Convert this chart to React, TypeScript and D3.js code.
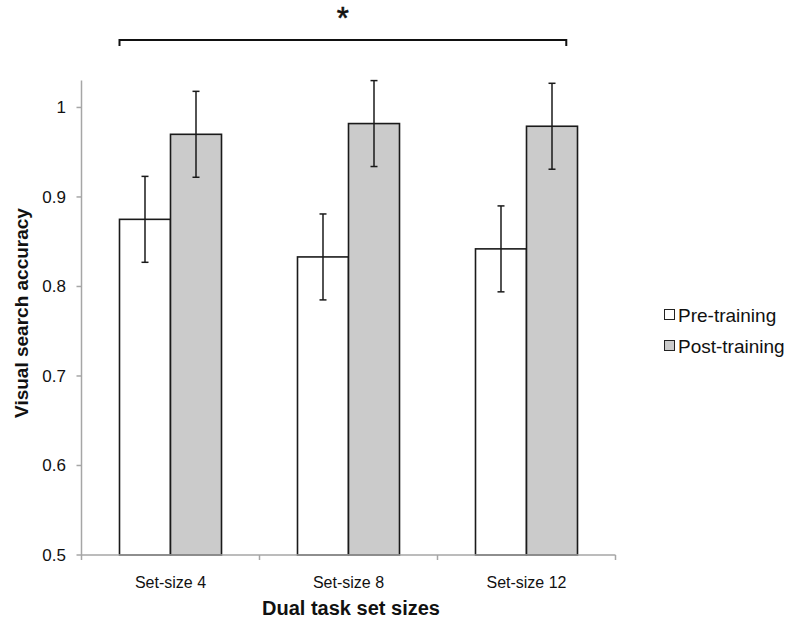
import React from "react";
import * as d3 from "d3";

const categories = ["Set-size 4", "Set-size 8", "Set-size 12"];
const seriesNames = ["Pre-training", "Post-training"];
const preValues = [0.875, 0.833, 0.842];
const postValues = [0.970, 0.982, 0.979];
const preErrors = [0.048, 0.048, 0.048];
const postErrors = [0.048, 0.048, 0.048];
const yTicks = [0.5, 0.6, 0.7, 0.8, 0.9, 1];
const seriesFill = ["#ffffff", "#cbcbcb"];

const W = 793;
const H = 619;
const FONT = "'Liberation Sans', Arial, Helvetica, sans-serif";

export default function App() {
  const x0 = d3.scaleBand<string>().domain(categories).range([81.5, 615.5]).paddingInner(0).paddingOuter(0);
  const x1 = d3.scaleBand<string>().domain(seriesNames).range([0, x0.bandwidth()]).paddingInner(0).paddingOuter(0.745);
  const y = d3.scaleLinear().domain([0.5, 1.03]).range([555, 80.6]);

  const values = [preValues, postValues];
  const errors = [preErrors, postErrors];

  const bracketLeft = (x0(categories[0]) ?? 0) + (x1(seriesNames[0]) ?? 0);
  const bracketRight = (x0(categories[2]) ?? 0) + (x1(seriesNames[1]) ?? 0) + x1.bandwidth() * 0.78;
  const bracketY = 40;

  const axisColor = "#a6a6a6";

  return (
    <svg width={W} height={H} style={{ position: "absolute", left: 0, top: 0, display: "block", background: "#fff" }} fontFamily={FONT}>
      {/* significance bracket */}
      <path
        d={`M${bracketLeft},${bracketY + 6}V${bracketY}H${bracketRight}V${bracketY + 6}`}
        fill="none"
        stroke="#111"
        strokeWidth={2}
      />
      <text x={(bracketLeft + bracketRight) / 2} y={29} textAnchor="middle" fontSize={31} fill="#111" stroke="#111" strokeWidth={0.6}>*</text>

      {/* y axis */}
      <line x1={x0.range()[0]} x2={x0.range()[0]} y1={y(0.5)} y2={y(1.03)} stroke={axisColor} strokeWidth={1.5} />
      {yTicks.map((t) => (
        <g key={t}>
          <line x1={x0.range()[0] - 5} x2={x0.range()[0]} y1={y(t)} y2={y(t)} stroke={axisColor} strokeWidth={1.5} />
          <text x={66} y={y(t)} dy="0.35em" textAnchor="end" fontSize={17} fill="#111">{d3.format("")(t)}</text>
        </g>
      ))}

      {/* bars */}
      {categories.map((c, ci) => (
        <g key={c} transform={`translate(${x0(c)},0)`}>
          {seriesNames.map((s, si) => {
            const v = values[si][ci];
            const bx = x1(s) ?? 0;
            return (
              <rect
                key={s}
                x={bx}
                y={y(v)}
                width={x1.bandwidth()}
                height={y(0.5) - y(v)}
                fill={seriesFill[si]}
                stroke="#1a1a1a"
                strokeWidth={1.6}
              />
            );
          })}
          {seriesNames.map((s, si) => {
            const v = values[si][ci];
            const e = errors[si][ci];
            const cx = (x1(s) ?? 0) + x1.bandwidth() / 2;
            return (
              <g key={s + "err"} stroke="#1a1a1a" strokeWidth={1.5}>
                <line x1={cx} x2={cx} y1={y(v + e)} y2={y(v - e)} />
                <line x1={cx - 3.5} x2={cx + 3.5} y1={y(v + e)} y2={y(v + e)} />
                <line x1={cx - 3.5} x2={cx + 3.5} y1={y(v - e)} y2={y(v - e)} />
              </g>
            );
          })}
        </g>
      ))}

      {/* x axis */}
      <line x1={x0.range()[0]} x2={x0.range()[1]} y1={y(0.5)} y2={y(0.5)} stroke={axisColor} strokeWidth={1.5} />
      {[...categories.map((c) => x0(c) ?? 0), x0.range()[1]].map((tx, i) => (
        <line key={i} x1={tx} x2={tx} y1={y(0.5)} y2={y(0.5) + 5} stroke={axisColor} strokeWidth={1.5} />
      ))}
      {categories.map((c) => (
        <text key={c} x={(x0(c) ?? 0) + x0.bandwidth() / 2} y={582} dy="0.35em" textAnchor="middle" fontSize={16} fill="#111">{c}</text>
      ))}

      {/* axis titles */}
      <text x={351} y={608} dy="0.35em" textAnchor="middle" fontSize={20} fontWeight="bold" fill="#111">Dual task set sizes</text>
      <text transform={`translate(21,313) rotate(-90)`} dy="0.35em" textAnchor="middle" fontSize={19} fontWeight="bold" fill="#111">Visual search accuracy</text>

      {/* legend */}
      {seriesNames.map((s, i) => (
        <g key={s} transform={`translate(664,${309 + i * 31})`}>
          <rect x={0.5} y={0.5} width={10} height={10} fill={seriesFill[i]} stroke="#222" strokeWidth={1} />
          <text x={14} y={13} fontSize={19} fill="#111">{s}</text>
        </g>
      ))}
    </svg>
  );
}
